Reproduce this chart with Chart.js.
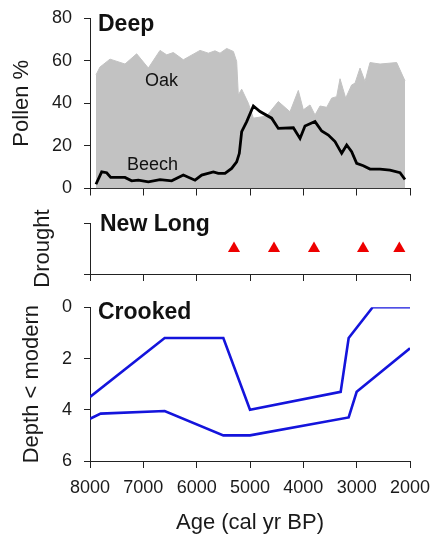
<!DOCTYPE html>
<html>
<head>
<meta charset="utf-8">
<script src="https://cdn.jsdelivr.net/npm/chart.js@4.4.0/dist/chart.umd.min.js"></script>
<style>
  body { margin: 0; background: #fff; }
  #wrap { position: relative; width: 435px; height: 545px; }
  canvas { position: absolute; left: 0; }
</style>
</head>
<body>
<div id="wrap">
  <canvas id="deep" width="435" height="200" style="top:0"></canvas>
  <canvas id="newlong" width="435" height="95" style="top:195px"></canvas>
  <canvas id="crooked" width="435" height="255" style="top:290px"></canvas>
</div>
<script>
// eixo comum (idade)
const ageTicks = [8000, 7000, 6000, 5000, 4000, 3000, 2000];

// Deep - pólen
const oakAge = [7888, 7812, 7625, 7344, 7125, 6906, 6687, 6562, 6437, 6250, 5937, 5781, 5656, 5562, 5437, 5312, 5250, 5219, 5156, 5031, 4937, 4687, 4625, 4469, 4250, 4094, 4000, 3875, 3781, 3687, 3562, 3469, 3375, 3312, 3206, 3094, 3031, 2937, 2844, 2750, 2562, 2250, 2094];
const oakPct = [53.3, 57, 60.7, 58.4, 63.2, 56.5, 64.8, 62.7, 63.8, 60.4, 64.8, 63.5, 64.6, 63.5, 65.7, 64.3, 59.6, 43.9, 46.6, 40, 33, 34, 36, 40.8, 36, 46, 36.9, 39.2, 34.5, 38.7, 38.1, 42.4, 43.1, 51.5, 42.4, 48.6, 49.4, 56.5, 50.2, 59.1, 58.4, 59.1, 50.5];
const beechAge = [7888, 7781, 7687, 7612, 7344, 7219, 7094, 6906, 6687, 6469, 6250, 6031, 5906, 5687, 5594, 5469, 5344, 5250, 5200, 5156, 5062, 4937, 4812, 4594, 4469, 4187, 4062, 3969, 3781, 3656, 3531, 3406, 3281, 3187, 3094, 3000, 2875, 2750, 2562, 2375, 2187, 2094];
const beechPct = [2, 7.8, 7.4, 5.2, 5.2, 3.6, 3.9, 3.1, 4.2, 3.6, 6.3, 3.9, 6.3, 7.8, 7.1, 7.1, 9.4, 12.5, 16.5, 26.7, 31.4, 38.7, 36.1, 33, 28.2, 28.5, 23.5, 29.3, 31.4, 27, 25.1, 22, 16.5, 20.4, 17.3, 11.8, 10.7, 9.1, 9.1, 8.6, 7.4, 4.2];
const pollenTicks = [0, 20, 40, 60, 80];

// New Long - secas
const droughtAge = [5300, 4550, 3800, 2880, 2200];
const droughtLevel = [0.5, 0.5, 0.5, 0.5, 0.5];

// Crooked - profundidade
const upperAge = [8000, 6600, 5500, 5000, 3300, 3150, 2700, 2000];
const upperDepth = [3.5, 1.2, 1.2, 4.0, 3.3, 1.2, 0, 0];
const lowerAge = [8000, 7800, 6600, 5500, 5000, 3150, 3000, 2000];
const lowerDepth = [4.35, 4.15, 4.05, 5.0, 5.0, 4.3, 3.3, 1.6];
const depthTicks = [0, 2, 4, 6];

const pts = (xs, ys) => xs.map((x, i) => ({ x: x, y: ys[i] }));

Chart.defaults.font.family = 'Arial, "Liberation Sans", sans-serif';
Chart.defaults.color = '#1a1a1a';
Chart.defaults.animation = false;

const axisColor = '#222';

// textos soltos (títulos dos painéis e rótulos)
const textPlugin = {
  id: 'textos',
  afterDraw(chart, args, opts) {
    const ctx = chart.ctx;
    const area = chart.chartArea;
    (opts.items || []).forEach(t => {
      let x, y;
      if (t.data) {
        x = chart.scales.x.getPixelForValue(t.x);
        y = chart.scales.y.getPixelForValue(t.y);
      } else {
        x = area.left + t.dx;
        y = area.top + t.dy;
      }
      ctx.save();
      ctx.font = t.font;
      ctx.fillStyle = '#111';
      ctx.textBaseline = 'alphabetic';
      ctx.fillText(t.text, x, y);
      ctx.restore();
    });
  }
};

function xAxis(height, showLabels, title) {
  return {
    type: 'linear',
    min: 2000,
    max: 8000,
    reverse: true,
    afterBuildTicks: s => { s.ticks = ageTicks.map(v => ({ value: v })); },
    afterFit: s => { s.height = height; s.paddingLeft = 0; s.paddingRight = 0; },
    ticks: {
      display: showLabels,
      font: { size: 18 },
      padding: 9,
      maxRotation: 0,
      callback: v => String(v)
    },
    grid: { drawOnChartArea: false, drawTicks: true, tickLength: 7, color: axisColor },
    border: { display: true, color: axisColor, width: 1 },
    title: title ? { display: true, text: title, font: { size: 22 }, padding: { top: 0, bottom: 9 } } : { display: false }
  };
}

function yAxis(min, max, tickVals, reverse, title, titlePad, showLabels) {
  return {
    type: 'linear',
    min: min,
    max: max,
    reverse: reverse,
    afterBuildTicks: s => { s.ticks = tickVals.map(v => ({ value: v })); },
    afterFit: s => { s.width = 90; s.paddingTop = 0; s.paddingBottom = 0; },
    ticks: { display: showLabels, font: { size: 18 }, padding: 12 },
    grid: { drawOnChartArea: false, drawTicks: true, tickLength: 6, color: axisColor },
    border: { display: true, color: axisColor, width: 1 },
    title: { display: true, text: title, font: { size: 22 }, padding: { top: titlePad, bottom: 0 } }
  };
}

// painel Deep
new Chart(document.getElementById('deep'), {
  type: 'line',
  data: {
    datasets: [{
      label: 'Beech',
      data: pts(beechAge, beechPct),
      borderColor: '#000',
      borderWidth: 2.8,
      fill: false,
      pointRadius: 0,
      tension: 0,
      order: 0
    }, {
      label: 'Oak',
      data: pts(oakAge, oakPct),
      borderColor: '#c2c2c2',
      borderWidth: 1,
      backgroundColor: '#c2c2c2',
      fill: 'origin',
      pointRadius: 0,
      tension: 0,
      order: 1
    }]
  },
  options: {
    responsive: false,
    layout: { padding: { top: 18, right: 25, bottom: 0, left: 0 } },
    plugins: {
      legend: { display: false },
      tooltip: { enabled: false },
      textos: {
        items: [
          { text: 'Deep', font: 'bold 23px Arial, "Liberation Sans", sans-serif', dx: 8, dy: 12.5 },
          { text: 'Oak', font: '18px Arial, "Liberation Sans", sans-serif', data: true, x: 6969, y: 48.2 },
          { text: 'Beech', font: '18px Arial, "Liberation Sans", sans-serif', data: true, x: 7306, y: 8.7 }
        ]
      }
    },
    scales: {
      x: xAxis(11.5, false, null),
      y: yAxis(0, 80, pollenTicks, false, 'Pollen %', 9, true)
    }
  },
  plugins: [textPlugin]
});

// painel New Long
new Chart(document.getElementById('newlong'), {
  type: 'scatter',
  data: {
    datasets: [{
      label: 'Drought',
      data: pts(droughtAge, droughtLevel),
      pointStyle: 'triangle',
      pointRadius: 7,
      backgroundColor: '#ee0000',
      borderWidth: 0
    }]
  },
  options: {
    responsive: false,
    layout: { padding: { top: 28, right: 25, bottom: 0, left: 0 } },
    plugins: {
      legend: { display: false },
      tooltip: { enabled: false },
      textos: {
        items: [
          { text: 'New Long', font: 'bold 23px Arial, "Liberation Sans", sans-serif', dx: 10, dy: 8 }
        ]
      }
    },
    scales: {
      x: xAxis(16, false, null),
      y: yAxis(0, 1, [0, 1], false, 'Drought', 30, false)
    }
  },
  plugins: [textPlugin]
});

// painel Crooked
new Chart(document.getElementById('crooked'), {
  type: 'line',
  data: {
    datasets: [{
      label: 'upper',
      data: pts(upperAge, upperDepth),
      borderColor: '#1414dc',
      borderWidth: 2.6,
      pointRadius: 0,
      fill: false,
      tension: 0
    }, {
      label: 'lower',
      data: pts(lowerAge, lowerDepth),
      borderColor: '#1414dc',
      borderWidth: 2.6,
      pointRadius: 0,
      fill: false,
      tension: 0
    }]
  },
  options: {
    responsive: false,
    layout: { padding: { top: 17.3, right: 25, bottom: 0, left: 0 } },
    plugins: {
      legend: { display: false },
      tooltip: { enabled: false },
      textos: {
        items: [
          { text: 'Crooked', font: 'bold 23px Arial, "Liberation Sans", sans-serif', dx: 8, dy: 12 }
        ]
      }
    },
    scales: {
      x: xAxis(84, true, 'Age (cal yr BP)'),
      y: yAxis(0, 6, depthTicks, true, 'Depth < modern', 19, true)
    }
  },
  plugins: [textPlugin]
});
</script>
</body>
</html>
